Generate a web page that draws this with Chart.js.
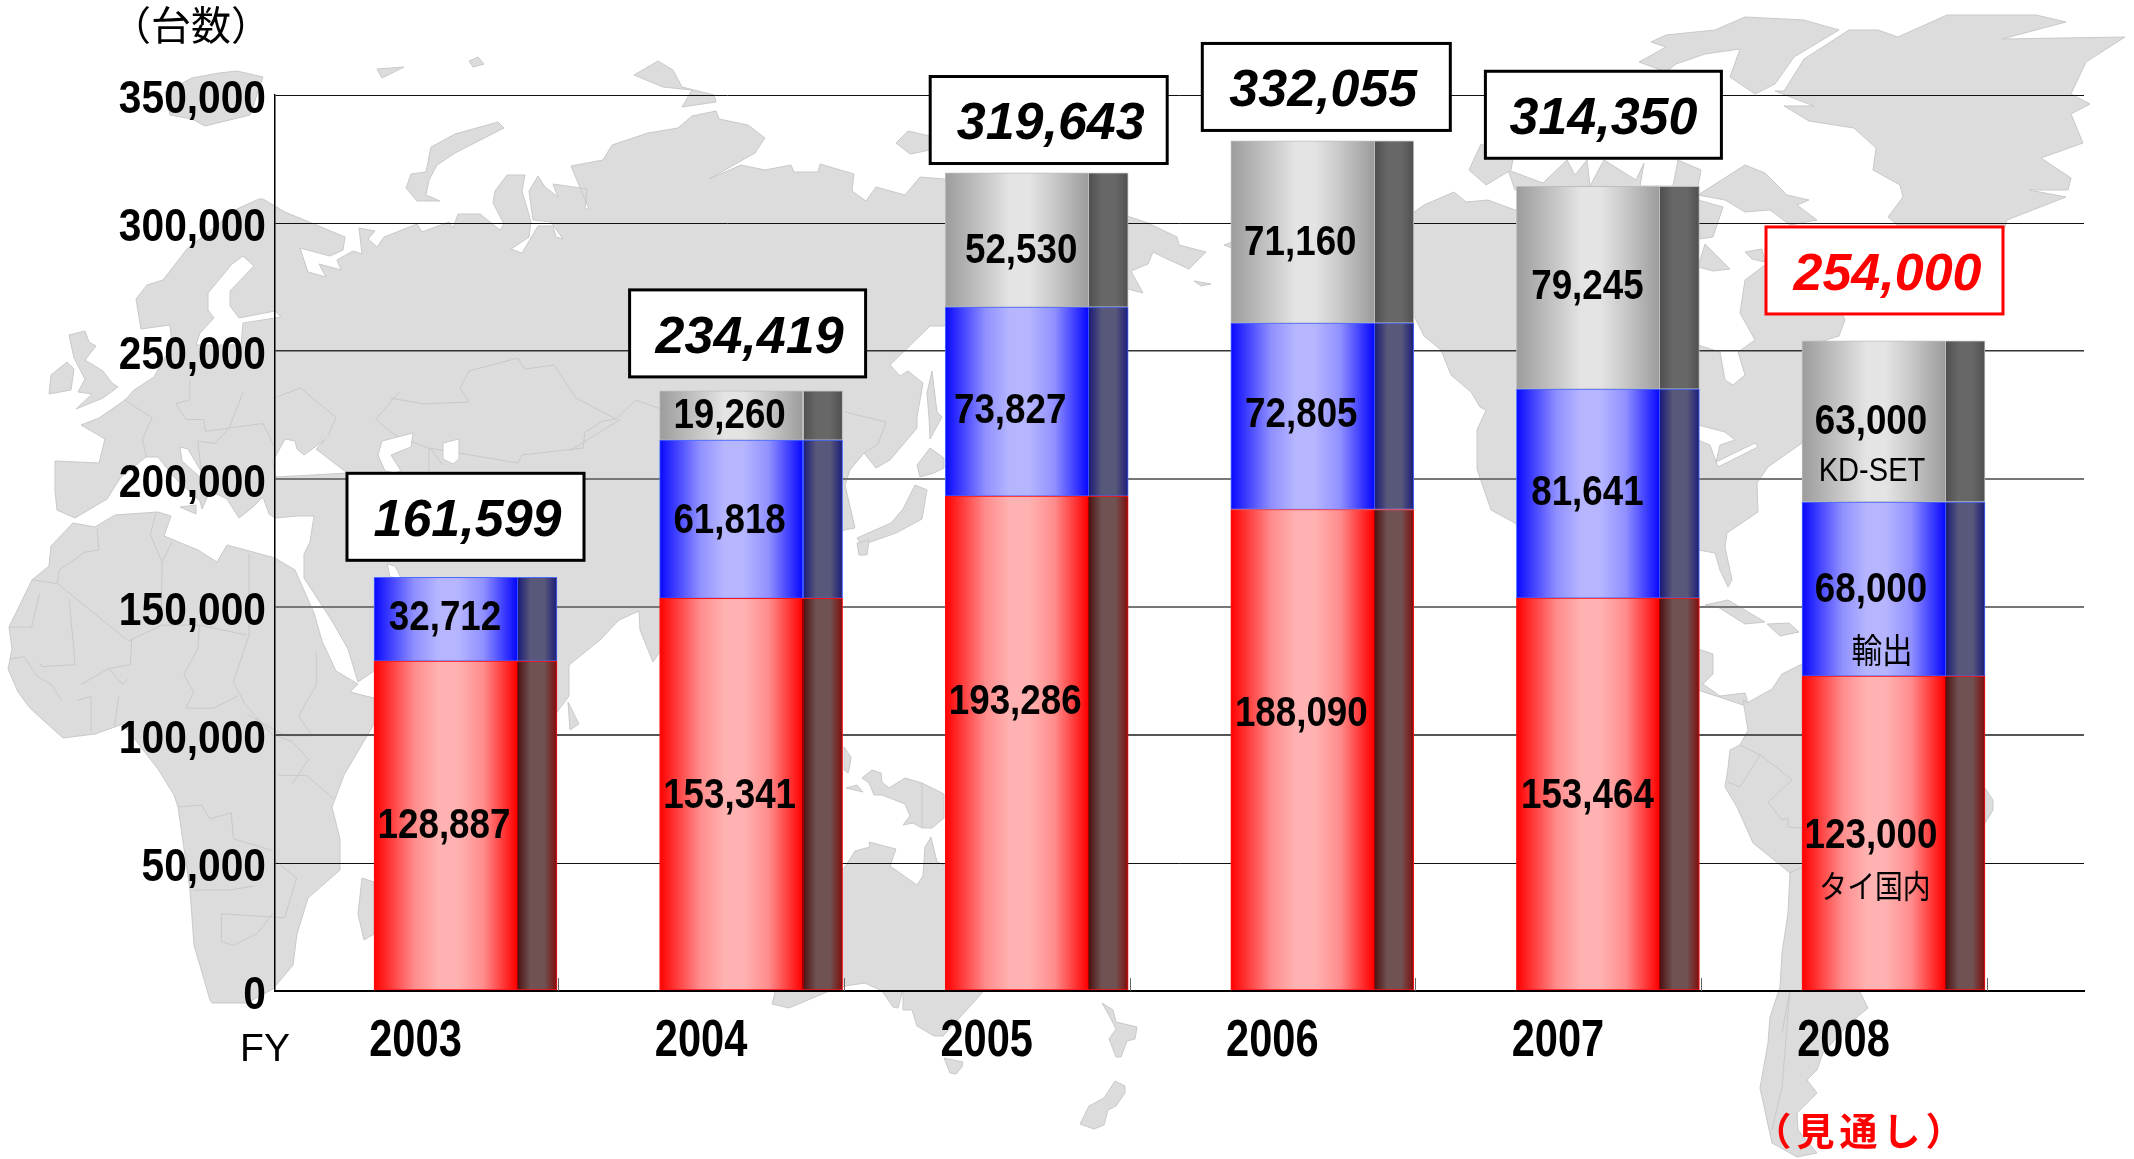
<!DOCTYPE html>
<html lang="ja"><head><meta charset="utf-8">
<style>html,body{margin:0;padding:0;background:#fff}canvas{display:block}</style>
<script src="https://cdn.jsdelivr.net/npm/chart.js@4/dist/chart.umd.js"></script>
</head><body><canvas id="c" width="2134" height="1159" style="width:2134px;height:1159px"></canvas>
<script>
const years=[2003,2004,2005,2006,2007,2008];
const domestic=[128887,153341,193286,188090,153464,123000];
const exportUnits=[32712,61818,73827,72805,81641,68000];
const kdSet=[0,19260,52530,71160,79245,63000];
const totals=[161599,234419,319643,332055,314350,254000];
const yTicks=[0,50000,100000,150000,200000,250000,300000,350000];
const unitLabel='（台数）', fyLabel='FY', outlook='（見通し）';
const seriesNames=['タイ国内','輸出','KD-SET'];

/* label placement, relative to each bar segment */
const nudgeDom=[[-2,0],[-2,1],[-2,-42],[-1.5,-36],[-1,1],[-3,2]];
const nudgeExp=[[-1,-2],[-2,1],[-7,9],[-1.5,-2],[-1,-1],[-3,0]];
const nudgeKd=[null,[-2,0],[4,10],[-2.5,10],[-1,-1],[-3,0]];
const boxOff=[[0,-60.5],[-3.5,-57.5],[12,-52.7],[4,-54],[-4.5,-71.5],[-9,-70.3]];
const boxTextDx=[2,2,2,-3,0,3];
const boxW=[237,236,237,248,236,237];

const SANS='"Liberation Sans",Arial,sans-serif';
const CJK='"Noto Sans CJK JP","Noto Sans",sans-serif';
const BAR=183, FRONT=144/183;

/* the reference type is horizontally condensed: font prefix -> [x factor, y shift] */
const CONDENSE=[['bold 46px',.885,5],['bold 52px',.8,0],['bold 42px',.875,0],['33px',.88,0],['34px',.9,0],['32px',.87,0]];

/* decorative backdrop: a hand-traced world map */
const LAND=[
[[75,518],[57,510],[55,491],[55,461],[99,463],[105,439],[81,425],[99,418],[125,400],[134,390],[154,377],[172,345],[170,325],[141,329],[136,299],[147,285],[163,280],[187,249],[237,209],[259,199],[263,199],[285,212],[345,237],[343,250],[330,256],[300,248],[308,272],[326,277],[319,264],[341,270],[337,260],[353,251],[362,254],[359,228],[375,231],[368,239],[377,247],[384,237],[417,224],[422,232],[449,222],[453,228],[458,214],[480,214],[500,230],[504,224],[493,203],[495,191],[507,175],[525,175],[522,191],[531,222],[529,237],[511,249],[522,253],[538,226],[553,226],[556,237],[563,239],[551,222],[533,220],[529,191],[538,176],[545,187],[558,197],[553,184],[587,189],[585,209],[589,209],[571,166],[603,160],[612,145],[648,133],[678,128],[692,116],[716,111],[719,119],[748,125],[765,138],[755,153],[709,179],[741,165],[765,170],[791,165],[794,172],[818,172],[820,164],[854,174],[852,191],[866,201],[876,187],[905,195],[920,177],[944,179],[1100,190],[1127,216],[1148,223],[1177,237],[1179,245],[1206,252],[1189,269],[1167,259],[1153,252],[1148,264],[1131,271],[1143,293],[1120,287],[1100,320],[945,326],[930,326],[890,365],[900,376],[908,371],[923,383],[917,417],[917,428],[890,460],[876,468],[864,453],[850,470],[845,485],[855,528],[844,530],[800,560],[700,640],[661,650],[653,662],[640,630],[639,611],[619,620],[600,640],[569,665],[569,696],[557,712],[520,650],[470,600],[420,640],[374,671],[358,682],[348,649],[332,621],[304,578],[304,554],[310,542],[314,516],[297,516],[275,518],[269,514],[263,497],[253,507],[239,518],[227,499],[210,491],[202,509],[200,501],[174,477],[158,457],[146,457],[121,477],[107,499]],
/* Africa */
[[275,558],[253,552],[227,545],[217,562],[198,550],[164,536],[171,516],[158,512],[115,515],[95,527],[73,523],[51,546],[49,566],[32,580],[9,627],[12,649],[8,669],[18,692],[30,708],[43,720],[63,738],[95,734],[123,724],[158,769],[174,795],[178,807],[190,890],[194,945],[210,1000],[212,1003],[247,1003],[273,989],[293,965],[297,934],[308,898],[340,870],[340,839],[332,807],[344,775],[374,724],[374,698],[350,692],[358,684],[336,671],[322,641],[314,613],[295,570]],
[[362,878],[358,914],[364,940],[374,934],[374,882]],
/* British Isles, Iceland, arctic islands */
[[69,335],[85,331],[89,342],[96,346],[85,360],[103,371],[112,383],[118,387],[103,398],[76,409],[92,394],[78,392],[85,379],[74,358]],
[[51,375],[67,362],[74,369],[71,390],[49,394]],
[[192,78],[219,73],[237,71],[263,77],[250,115],[205,126],[192,119],[170,115],[165,92]],
[[377,69],[404,67],[382,78]],[[469,61],[478,57],[484,64],[473,67]],
[[406,188],[411,174],[426,172],[431,147],[455,134],[498,122],[504,128],[455,153],[437,165],[429,180],[426,195],[440,201],[417,201]],
[[634,75],[658,61],[673,70],[682,87],[714,95],[716,102],[682,107],[692,90],[663,87]],
[[896,143],[908,131],[930,136],[930,150],[910,154]],
/* Japan, Sakhalin, Sri Lanka, Sicily */
[[857,538],[891,523],[903,509],[915,485],[927,490],[922,519],[896,533],[862,545]],
[[857,543],[869,540],[867,555],[859,555]],
[[917,465],[930,448],[944,458],[944,468],[934,473],[920,477]],
[[932,371],[937,412],[942,417],[930,439],[929,417],[927,393]],
[[568,702],[579,724],[570,730]],[[180,507],[196,505],[196,514]],
/* Oceania */
[[862,778],[872,770],[881,773],[882,782],[889,788],[905,778],[922,783],[944,794],[944,818],[932,828],[922,828],[913,823],[903,825],[910,816],[905,804],[882,795],[874,795],[869,783]],
[[846,788],[857,785],[863,792]],
[[844,747],[851,757],[850,765],[848,773],[844,770]],
[[772,1004],[789,1008],[827,992],[845,986],[865,983],[882,991],[893,1007],[898,1008],[903,990],[903,1010],[912,1010],[917,1026],[934,1036],[943,1036],[982,993],[1000,950],[1000,900],[945,865],[937,862],[931,837],[925,847],[923,876],[917,885],[890,866],[896,849],[869,842],[870,847],[855,851],[845,867],[800,900]],
[[944,1058],[963,1062],[962,1067],[956,1074],[950,1073]],
[[1102,1003],[1113,1010],[1116,1022],[1137,1027],[1135,1039],[1127,1041],[1121,1057],[1116,1057],[1109,1039],[1116,1029],[1111,1019]],
[[1115,1081],[1125,1086],[1125,1093],[1116,1106],[1108,1110],[1104,1125],[1094,1129],[1080,1124],[1089,1106],[1104,1098]],
/* North America */
[[1380,220],[1414,212],[1424,205],[1454,192],[1466,202],[1488,200],[1515,210],[1698,205],[1698,345],[1720,352],[1725,380],[1733,385],[1745,375],[1738,352],[1755,340],[1740,313],[1745,280],[1765,265],[1800,260],[1830,290],[1845,320],[1839,336],[1810,345],[1802,443],[1768,467],[1757,483],[1758,512],[1727,533],[1725,547],[1732,580],[1728,587],[1720,570],[1715,553],[1698,550],[1680,560],[1640,600],[1600,640],[1515,523],[1491,510],[1477,469],[1477,430],[1486,410],[1480,407],[1471,392],[1451,375],[1441,350],[1424,336],[1414,316],[1380,300]],
[[1224,245],[1232,242],[1232,248]],[[1194,281],[1211,284],[1201,286]],
[[1698,200],[1723,207],[1713,237],[1700,239]],[[1698,267],[1705,244],[1730,269],[1713,271]],
[[1745,252],[1762,249],[1765,262],[1752,259]],
[[1698,195],[1745,165],[1765,173],[1787,195],[1809,200],[1797,205],[1817,220],[1790,225],[1770,210],[1745,212],[1725,200]],
[[1508,170],[1543,183],[1567,160],[1575,175],[1587,160],[1590,186],[1604,160],[1636,180],[1644,163],[1640,186],[1673,186],[1678,160],[1701,170],[1696,197],[1515,190]],
[[1469,170],[1486,185],[1511,170],[1513,159],[1481,144]],
[[1784,91],[1804,59],[1849,30],[1878,30],[1898,37],[1947,15],[2036,15],[2066,22],[2002,39],[2125,37],[2086,62],[2071,94],[2090,104],[2071,114],[2083,143],[2041,158],[2071,178],[2068,190],[2029,190],[2066,197],[2007,220],[2004,230],[1903,230],[1888,217],[1903,197],[1900,185],[1873,170],[1876,148],[1854,128],[1809,121],[1784,106],[1814,106],[1775,91]],
[[1639,62],[1666,47],[1651,42],[1666,35],[1715,30],[1745,17],[1804,20],[1839,30],[1794,57],[1775,84],[1755,94],[1730,77],[1740,49],[1705,54],[1676,64],[1666,72]],
/* Caribbean, Central and South America */
[[1705,605],[1728,600],[1765,622],[1745,624],[1718,607]],[[1767,624],[1789,623],[1799,632],[1780,636]],
[[1698,649],[1713,654],[1713,674],[1703,684],[1720,696],[1745,693],[1748,703],[1743,705],[1728,700],[1698,690]],
[[1747,703],[1772,689],[1782,674],[1802,664],[1985,788],[1993,800],[1993,810],[1985,823],[1860,992],[1868,1008],[1850,1023],[1823,1053],[1817,1070],[1807,1080],[1817,1093],[1797,1113],[1798,1130],[1817,1153],[1797,1157],[1772,1143],[1760,1088],[1768,1043],[1770,1017],[1780,987],[1782,953],[1788,913],[1790,873],[1753,843],[1737,807],[1725,787],[1728,768],[1730,750],[1740,745],[1748,730],[1743,700]]
];
const WATER=[
[[232,264],[243,256],[254,266],[230,291],[230,306],[239,318],[275,311],[281,317],[243,323],[241,345],[196,345],[200,333],[214,318],[208,310],[208,293]],
[[275,475],[273,461],[285,439],[295,441],[297,449],[304,455],[326,439],[316,449],[342,469],[348,473],[277,477]],
[[180,447],[188,449],[202,473],[200,477],[182,461]],
[[382,441],[413,433],[411,447],[391,455],[401,471],[395,473],[385,471],[378,455]],
[[443,443],[459,439],[459,459],[453,464],[443,459]],
[[387,564],[395,566],[401,578],[390,577]],
[[1698,425],[1725,432],[1735,440],[1720,445],[1716,462],[1755,443],[1758,447],[1718,467],[1710,445],[1698,440]]
];
const scale9=p=>[p[0]/2.529,p[1]/2.529+380];
const BORDERS9=[
[[245,375],[250,430],[215,435],[150,480],[145,515],[325,660],[410,620],[505,620],[625,645]],
[[395,335],[380,390],[410,460],[408,610]],[[435,410],[410,460]],
[[630,440],[630,645],[590,765],[620,820],[690,900]],[[80,505],[145,515]],
[[100,540],[80,625],[25,625]],[[175,555],[190,720],[105,725],[100,715]],
[[25,705],[60,700],[95,750],[130,770],[155,810]],
[[333,655],[330,720],[275,730],[310,770],[325,755]],
[[505,620],[500,680],[465,745],[490,790],[470,830],[540,830],[600,800]],
[[205,770],[275,730]],[[195,810],[230,800],[230,890]],[[300,800],[290,875]],
[[800,690],[800,770],[755,850],[790,900],[720,900],[625,845]],
[[315,50],[360,80],[385,95],[360,150],[370,195]],
[[480,0],[480,50],[445,60],[470,100],[515,100],[520,130],[590,120],[665,110],[695,170]],
[[615,30],[580,120],[545,160],[500,155],[510,235]],
[[695,45],[760,20],[850,95],[830,140]],
[[1010,30],[950,100],[1000,140],[1090,175],[1120,215]],
[[1440,180],[1520,130],[1568,100]],
[[705,1000],[775,1000],[845,1060]],[[700,900],[740,915],[780,960],[740,1020]],
[[450,1080],[510,1075],[530,1110],[585,1095],[590,1160],[690,1190]],
[[690,1210],[750,1260],[720,1360],[560,1350],[560,1420],[590,1430],[650,1400],[690,1350]],
[[490,1290],[580,1290],[640,1280]]
];
const BORDERS=[
[[390,398],[424,404],[469,402],[460,388],[469,371],[518,358],[525,369],[554,365],[576,398],[616,419],[603,421],[585,432],[583,448],[522,455],[518,463],[429,448],[429,471]],
[[616,419],[636,400],[697,422]],[[845,412],[886,422],[878,444],[864,453]],
[[1740,745],[1760,755],[1780,770],[1792,780],[1768,802],[1782,820],[1788,818],[1788,827],[1802,828]],
[[1760,755],[1740,787],[1728,782]],[[1790,873],[1802,867]],
[[1782,1033],[1790,990],[1782,1087],[1772,1130]],
[[922,783],[922,828]]
];

function poly(ctx,pts,close){ctx.beginPath();pts.forEach((p,i)=>i?ctx.lineTo(p[0],p[1]):ctx.moveTo(p[0],p[1]));if(close)ctx.closePath();}

const mapPlugin={id:'worldMap',beforeDraw(chart){
  const ctx=chart.ctx;ctx.save();
  ctx.fillStyle='#fff';ctx.fillRect(0,0,chart.width,chart.height);
  ctx.lineJoin='round';ctx.lineWidth=1;ctx.strokeStyle='#c9c9c9';ctx.fillStyle='#dcdcdc';
  LAND.forEach(p=>{poly(ctx,p,true);ctx.fill();ctx.stroke();});
  BORDERS9.forEach(p=>{poly(ctx,p.map(scale9),false);ctx.stroke();});
  BORDERS.forEach(p=>{poly(ctx,p,false);ctx.stroke();});
  ctx.fillStyle='#fff';
  WATER.forEach(p=>{poly(ctx,p,true);ctx.fill();ctx.stroke();});
  ctx.restore();
}};

function barGradient(c,stops){
  const chart=c.chart, x=chart.scales.x;
  if(!x||c.dataIndex===undefined) return stops.front[1];
  const px=x.getPixelForValue(years[c.dataIndex]);
  if(!Number.isFinite(px)) return stops.front[1];
  const g=chart.ctx.createLinearGradient(px-BAR/2,0,px+BAR/2,0);
  const sideW=1-FRONT;
  g.addColorStop(0,stops.front[0]);
  g.addColorStop(FRONT*.28,stops.front[2]);
  g.addColorStop(FRONT*.45,stops.front[1]);
  g.addColorStop(FRONT*.58,stops.front[1]);
  g.addColorStop(FRONT*.76,stops.front[2]);
  g.addColorStop(FRONT-.006,stops.front[0]);
  g.addColorStop(FRONT-.006,stops.divider);
  g.addColorStop(FRONT,stops.divider);
  g.addColorStop(FRONT,stops.side[0]);
  g.addColorStop(FRONT+sideW*.32,stops.side[1]);
  g.addColorStop(FRONT+sideW*.68,stops.side[1]);
  g.addColorStop(1,stops.side[2]);
  return g;
}
const redStops={front:['#ff0000','#ffb2b2','#ff8c8c'],side:['#4e1414','#705252','#800c0c'],divider:'#a00000'};
const blueStops={front:['#0808ff','#b6b6ff','#9090ff'],side:['#1c1c78','#58587a','#1c1c78'],divider:'#3a55ff'};
const greyStops={front:['#9c9c9c','#e4e4e4','#c8c8c8'],side:['#505050','#676767','#505050'],divider:'#bdbdbd'};

const toPoints=a=>a.map((v,i)=>({x:years[i],y:v}));
const fmt=v=>v.toLocaleString('en-US');

const overlay={id:'overlay',afterDatasetsDraw(chart){
  const ctx=chart.ctx, xs=chart.scales.x;
  ctx.save();
  /* inward tick marks at category boundaries */
  ctx.strokeStyle='#666';ctx.lineWidth=1;
  xs.ticks.forEach((t,i)=>{const p=Math.round(xs.getPixelForTick(i))+.5;ctx.beginPath();ctx.moveTo(p,978);ctx.lineTo(p,chart.chartArea.bottom);ctx.stroke();});
  ctx.textAlign='center';ctx.textBaseline='middle';
  /* segment values */
  const nudges=[nudgeDom,nudgeExp,nudgeKd];
  ctx.fillStyle='#000';ctx.font='bold 42px '+SANS;
  chart.data.datasets.forEach((ds,d)=>{
    chart.getDatasetMeta(d).data.forEach((el,i)=>{
      const n=nudges[d][i]; if(!n) return;
      ctx.fillText(fmt(ds.data[i].y),el.x-19.5+n[0],(el.y+el.base)/2+n[1]+1);
    });
  });
  /* series names beside the last bar */
  const last=years.length-1;
  ctx.font='33px '+SANS;ctx.fillText(seriesNames[2],1872,472);
  ctx.font='34px '+CJK;ctx.fillText(seriesNames[1],1882,650);
  ctx.font='32px '+CJK;ctx.fillText(seriesNames[0],1875,886);
  /* total boxes */
  const topMeta=chart.getDatasetMeta(2).data;
  totals.forEach((v,i)=>{
    const el=topMeta[i], cx=el.x+boxOff[i][0], cy=el.y+boxOff[i][1], w=boxW[i], h=87;
    const red=i===last;
    ctx.fillStyle='#fff';ctx.fillRect(cx-w/2,cy-h/2,w,h);
    ctx.strokeStyle=red?'#ff0000':'#000';ctx.lineWidth=3;ctx.strokeRect(cx-w/2,cy-h/2,w,h);
    ctx.fillStyle=red?'#ff0000':'#000';ctx.font='italic bold 52px '+SANS;
    ctx.fillText(fmt(v),cx+boxTextDx[i],cy+5);
  });
  /* free-standing captions */
  ctx.fillStyle='#000';ctx.font='40px '+CJK;ctx.fillText(unitLabel,191,25);
  ctx.font='39px '+SANS;ctx.fillText(fyLabel,265,1050);
  ctx.fillStyle='#ff0000';ctx.font='bold 38px '+CJK;ctx.letterSpacing='5px';ctx.fillText(outlook,1861,1131);
  ctx.restore();
}};

const canvas=document.getElementById('c');
const rawCtx=canvas.getContext('2d');
const rawFill=rawCtx.fillText.bind(rawCtx);
rawCtx.fillText=function(text,x,y,...rest){
  const f=rawCtx.font, m=CONDENSE.find(e=>f.startsWith(e[0]+' '));
  if(!m) return rawFill(text,x,y,...rest);
  rawCtx.save();rawCtx.translate(x,y+m[2]);rawCtx.scale(m[1],1);rawFill(text,0,0,...rest);rawCtx.restore();
};

const gridStyle=[['#000',2],['#111',1],['#555',2],['#777',2],['#777',2],['#333',1.5],['#111',1],['#111',1]];
new Chart(canvas,{
  type:'bar',
  data:{datasets:[
    {label:seriesNames[0],data:toPoints(domestic),barThickness:BAR,borderWidth:1,borderColor:'#ff1010',borderSkipped:false,backgroundColor:c=>barGradient(c,redStops)},
    {label:seriesNames[1],data:toPoints(exportUnits),barThickness:BAR,borderWidth:1,borderColor:'#4a6cff',borderSkipped:false,backgroundColor:c=>barGradient(c,blueStops)},
    {label:seriesNames[2],data:toPoints(kdSet),barThickness:BAR,borderWidth:1,borderColor:'#bdbdbd',borderSkipped:false,backgroundColor:c=>barGradient(c,greyStops)}
  ]},
  options:{
    responsive:false,animation:false,devicePixelRatio:1,
    layout:{padding:{top:95,right:50,left:0,bottom:0}},
    plugins:{legend:{display:false},tooltip:{enabled:false},title:{display:false}},
    scales:{
      x:{type:'linear',stacked:true,offset:false,min:2002.3330,max:2008.6670,
        afterBuildTicks(s){s.ticks=years.map(y=>({value:y+93/285.6}));},
        afterFit(s){s.height=168;},
        grid:{display:false,offset:false},
        border:{display:true,color:'#000',width:2},
        ticks:{autoSkip:false,maxRotation:0,minRotation:0,color:'#000',padding:11,labelOffset:-143,
          font:{family:SANS,size:52,weight:'bold'},
          callback(v,i){return String(years[i]);}}
      },
      y:{stacked:true,min:0,max:350000,
        afterBuildTicks(s){s.ticks=yTicks.map(v=>({value:v}));},
        afterFit(s){s.width=275;},
        border:{display:true,color:'#000',width:1.5},
        grid:{drawTicks:false,color:c=>gridStyle[c.index]?gridStyle[c.index][0]:'#111',lineWidth:c=>gridStyle[c.index]?gridStyle[c.index][1]:1},
        ticks:{color:'#000',padding:9,font:{family:SANS,size:46,weight:'bold'},callback:v=>fmt(v)}
      }
    }
  },
  plugins:[mapPlugin,overlay]
});
</script></body></html>
